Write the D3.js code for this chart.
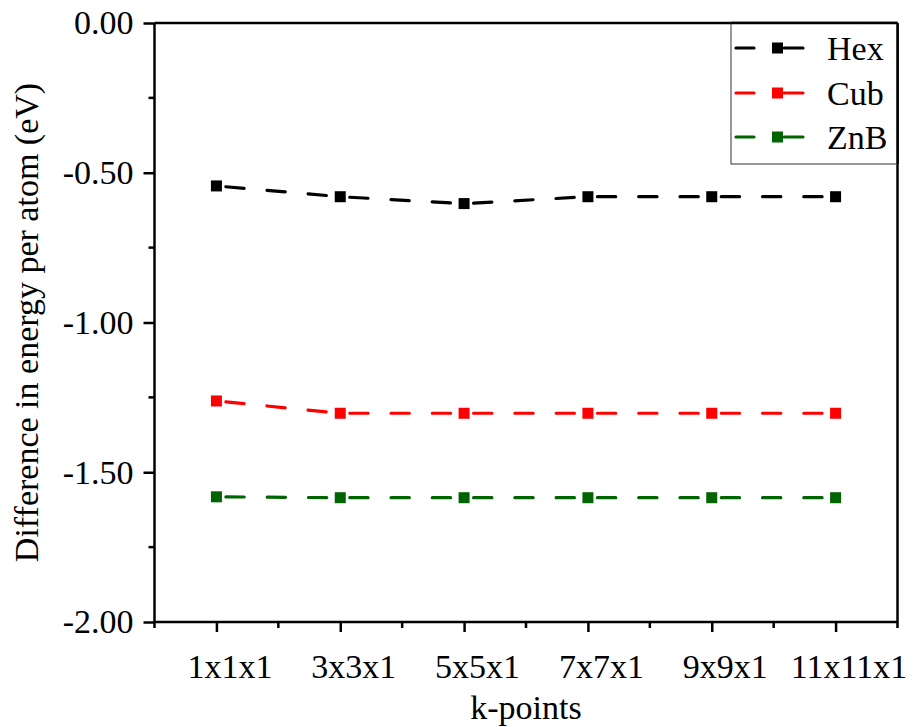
<!DOCTYPE html>
<html>
<head>
<meta charset="utf-8">
<script src="https://cdn.jsdelivr.net/npm/d3@7"></script>
<style>
  html, body { margin: 0; padding: 0; background: #fff; }
  svg { display: block; }
</style>
</head>
<body>
<script>
// k-point meshes on the x axis
const categories = ["1x1x1", "3x3x1", "5x5x1", "7x7x1", "9x9x1", "11x11x1"];
// energy difference per atom (eV) for each phase
const hexValues = [-0.544, -0.580, -0.603, -0.580, -0.580, -0.580];
const cubValues = [-1.262, -1.303, -1.303, -1.303, -1.303, -1.303];
const znbValues = [-1.582, -1.585, -1.585, -1.585, -1.585, -1.585];
const seriesNames = ["Hex", "Cub", "ZnB"];
const seriesColors = ["#000000", "#ff0000", "#006400"];
const yTicks = [0, -0.5, -1.0, -1.5, -2.0];

const FONT = "'Liberation Serif', Tinos, 'Times New Roman', Times, 'DejaVu Serif', serif";

const W = 916, H = 727;
const plot = { left: 154.5, right: 897.5, top: 23, bottom: 622 };

const svg = d3.select("body").append("svg").attr("width", W).attr("height", H)
  .style("font-family", FONT);

const x = d3.scaleLinear().domain([-0.5, categories.length - 0.5]).range([plot.left, plot.right]);
const y = d3.scaleLinear().domain([-2, 0]).range([plot.bottom, plot.top]);

// frame lines: top and right
svg.append("line").attr("x1", plot.left).attr("x2", plot.right).attr("y1", plot.top).attr("y2", plot.top)
  .attr("stroke", "#000").attr("stroke-width", 2.5);
svg.append("line").attr("x1", plot.right).attr("x2", plot.right).attr("y1", plot.top).attr("y2", plot.bottom)
  .attr("stroke", "#000").attr("stroke-width", 2.5);

// x axis: major ticks at categories, minor ticks halfway between
const xAxis = d3.axisBottom(x)
  .tickValues(d3.range(categories.length))
  .tickFormat(i => categories[i])
  .tickSize(10).tickPadding(22);
const gx = svg.append("g").attr("transform", `translate(0,${plot.bottom})`).call(xAxis);
gx.attr("font-family", null).attr("font-size", null);
gx.select(".domain").attr("stroke-width", 2.5).attr("d", `M${plot.left},0H${plot.right}`);
gx.selectAll(".tick line").attr("stroke-width", 2.5);
gx.selectAll(".tick text").attr("x", 13)
  .style("font-family", FONT).style("font-size", "34px").attr("fill", "#000");
const xMinor = d3.range(-0.5, categories.length, 1);
gx.selectAll(".minor").data(xMinor).join("line").attr("class", "minor")
  .attr("x1", d => x(d)).attr("x2", d => x(d)).attr("y1", 0).attr("y2", 6)
  .attr("stroke", "#000").attr("stroke-width", 2.5);

// y axis: labelled every 0.5, minor every 0.25
const yAxis = d3.axisLeft(y).tickValues(yTicks).tickFormat(d => d3.format(".2f")(d).replace("−", "-"))
  .tickSize(11).tickPadding(10);
const gy = svg.append("g").attr("transform", `translate(${plot.left},0)`).call(yAxis);
gy.attr("font-family", null).attr("font-size", null);
gy.select(".domain").attr("stroke-width", 2.5).attr("d", `M0,${plot.bottom}V${plot.top}`);
gy.selectAll(".tick line").attr("stroke-width", 2.5);
gy.selectAll(".tick text").style("font-family", FONT).style("font-size", "34px").attr("fill", "#000");
const yMinor = [-0.25, -0.75, -1.25, -1.75];
gy.selectAll(".minor").data(yMinor).join("line").attr("class", "minor")
  .attr("x1", 0).attr("x2", -6).attr("y1", d => y(d)).attr("y2", d => y(d))
  .attr("stroke", "#000").attr("stroke-width", 2.5);

// axis titles
svg.append("text").attr("x", (plot.left + plot.right) / 2).attr("y", 719)
  .attr("text-anchor", "middle").style("font-family", FONT).style("font-size", "34px").text("k-points");
svg.append("text").attr("transform", `translate(38,${(plot.top + plot.bottom) / 2}) rotate(-90)`)
  .attr("text-anchor", "middle").style("font-family", FONT).style("font-size", "34px")
  .text("Difference in energy per atom (eV)");

// series: dashed segments between points, square markers on top
const allSeries = [hexValues, cubValues, znbValues];
const dashPeriod = (x(1) - x(0)) / 3;
const dashLen = 18.3;
allSeries.forEach((vals, si) => {
  const g = svg.append("g");
  for (let i = 0; i < vals.length - 1; i++) {
    g.append("line")
      .attr("x1", x(i)).attr("y1", y(vals[i]))
      .attr("x2", x(i + 1)).attr("y2", y(vals[i + 1]))
      .attr("stroke", seriesColors[si]).attr("stroke-width", 3.2)
      .attr("stroke-linecap", "round")
      .attr("stroke-dasharray", `${dashLen} ${dashPeriod - dashLen}`)
      .attr("stroke-dashoffset", dashPeriod - 9.5);
  }
  g.selectAll("rect").data(vals).join("rect")
    .attr("x", (d, i) => x(i) - 5.5).attr("y", d => y(d) - 5.5)
    .attr("width", 11).attr("height", 11).attr("fill", seriesColors[si]);
});

// legend
const legend = svg.append("g");
legend.append("rect").attr("x", 731).attr("y", plot.top).attr("width", plot.right - 731).attr("height", 164 - plot.top)
  .attr("fill", "#fff").attr("stroke", "#333").attr("stroke-width", 1);
legend.append("line").attr("x1", 731).attr("x2", plot.right).attr("y1", plot.top).attr("y2", plot.top)
  .attr("stroke", "#000").attr("stroke-width", 2.5);
legend.append("line").attr("x1", plot.right).attr("x2", plot.right).attr("y1", plot.top).attr("y2", 164)
  .attr("stroke", "#000").attr("stroke-width", 2.5);
const legendY = [48, 93, 137];
seriesNames.forEach((name, si) => {
  const ly = legendY[si];
  legend.append("line").attr("x1", 736).attr("x2", 754).attr("y1", ly).attr("y2", ly)
    .attr("stroke", seriesColors[si]).attr("stroke-width", 3.2).attr("stroke-linecap", "round");
  legend.append("line").attr("x1", 784).attr("x2", 803).attr("y1", ly).attr("y2", ly)
    .attr("stroke", seriesColors[si]).attr("stroke-width", 3.2).attr("stroke-linecap", "round");
  legend.append("rect").attr("x", 772).attr("y", ly - 5.5).attr("width", 11).attr("height", 11)
    .attr("fill", seriesColors[si]);
  legend.append("text").attr("x", 827).attr("y", ly + 12)
    .style("font-family", FONT).style("font-size", "34px").text(name);
});
</script>
</body>
</html>
